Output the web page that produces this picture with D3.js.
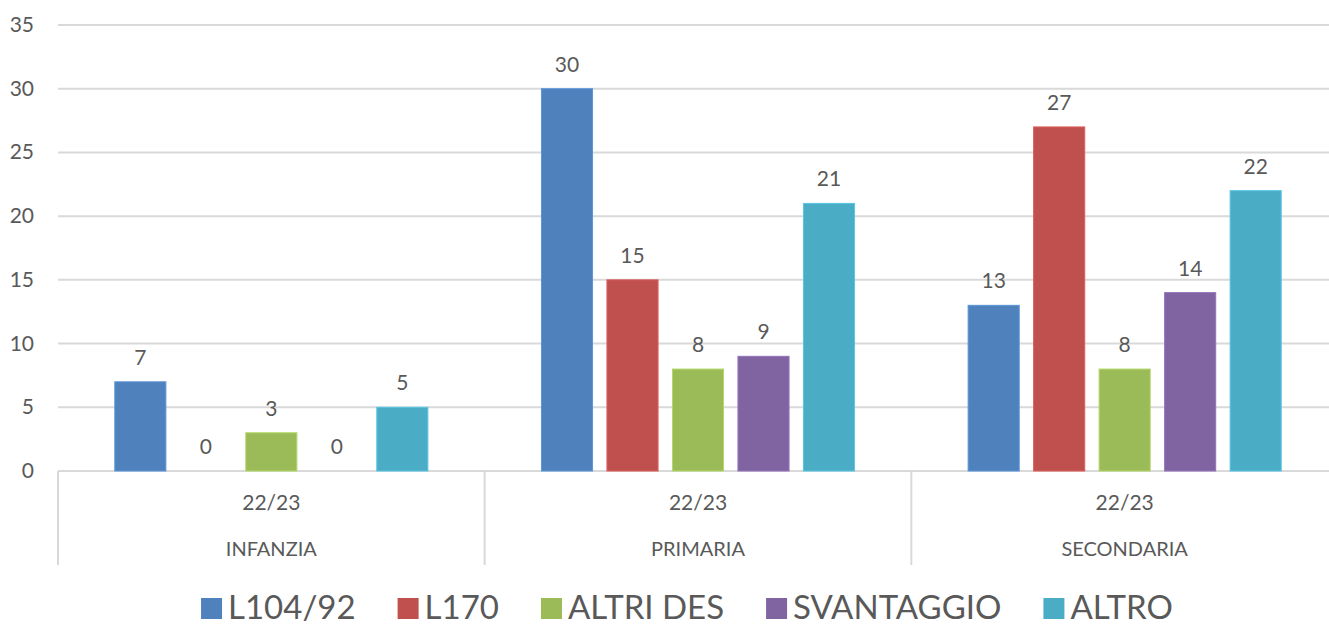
<!DOCTYPE html>
<html><head><meta charset="utf-8">
<script src="https://cdn.jsdelivr.net/npm/d3@7"></script>
<style>body{margin:0;background:#fff;overflow:hidden}svg{display:block}text{font-family:Lato,"Open Sans",sans-serif;fill:#595959}</style>
</head><body><svg width="1329" height="625"></svg>
<script>
const groups = ["INFANZIA","PRIMARIA","SECONDARIA"];
const years = ["22/23","22/23","22/23"];
const series = ["L104/92","L170","ALTRI DES","SVANTAGGIO","ALTRO"];
const colors = ["#4F81BD","#C0504D","#9BBB59","#8064A2","#4BACC6"];
const values = [
  [7,30,13],
  [0,15,27],
  [3,8,8],
  [0,9,14],
  [5,21,22]
];
const yTicks = [0,5,10,15,20,25,30,35];

const svg = d3.select("svg");
const L = 58, R = 1338, T = 25, B = 471;
const y = d3.scaleLinear().domain([0,35]).range([B,T]);
const x0 = d3.scaleBand().domain(d3.range(groups.length)).range([L,R]);
const x1 = d3.scaleBand().domain(d3.range(series.length)).range([0,x0.bandwidth()]).paddingInner(0.22).paddingOuter(0.867);

// gridlines
svg.append("g").selectAll("line").data(yTicks).join("line")
  .attr("x1",L).attr("x2",R).attr("y1",d=>y(d)).attr("y2",d=>y(d))
  .attr("stroke","#d9d9d9").attr("stroke-width",2);
svg.append("g").selectAll("text").data(yTicks).join("text")
  .attr("x",34).attr("y",d=>y(d)+7).attr("text-anchor","end")
  .attr("font-size",21).text(d=>d);

// separators
svg.append("g").selectAll("line").data(d3.range(groups.length)).join("line")
  .attr("x1",d=>x0(d)).attr("x2",d=>x0(d)).attr("y1",B).attr("y2",565)
  .attr("stroke","#d9d9d9").attr("stroke-width",2);

// bars
series.forEach((s,si)=>{
  const g = svg.append("g");
  g.selectAll("rect").data(values[si]).join("rect")
    .attr("x",(d,gi)=>x0(gi)+x1(si)).attr("width",x1.bandwidth())
    .attr("y",d=>y(d)).attr("height",d=>B-y(d))
    .attr("fill",colors[si]).attr("stroke",d3.color(colors[si]).brighter(0.4)).attr("stroke-width",1);
  g.selectAll("text").data(values[si]).join("text")
    .attr("x",(d,gi)=>x0(gi)+x1(si)+x1.bandwidth()/2)
    .attr("y",d=>y(d)-17).attr("text-anchor","middle").attr("font-size",21).text(d=>d);
});

// category labels
svg.append("g").selectAll("text").data(years).join("text")
  .attr("x",(d,i)=>x0(i)+x0.bandwidth()/2).attr("y",510).attr("text-anchor","middle")
  .attr("font-size",21).text(d=>d);
svg.append("g").selectAll("text").data(groups).join("text")
  .attr("x",(d,i)=>x0(i)+x0.bandwidth()/2).attr("y",556).attr("text-anchor","middle")
  .attr("font-size",20).text(d=>d);

// legend
const lg = svg.append("g");
let cx = 0;
const items = [];
series.forEach((s,i)=>{
  const it = lg.append("g");
  it.append("rect").attr("x",0).attr("y",-21).attr("width",21).attr("height",21).attr("fill",colors[i]);
  const t = it.append("text").attr("x",27).attr("y",0).attr("font-size",33).text(s);
  items.push({it, w:27+t.node().getComputedTextLength()});
});
const gap = 42;
const total = items.reduce((a,b)=>a+b.w,0)+gap*(items.length-1);
cx = 687 - total/2;
items.forEach(o=>{o.it.attr("transform",`translate(${cx},619)`); cx += o.w+gap;});
</script></body></html>
